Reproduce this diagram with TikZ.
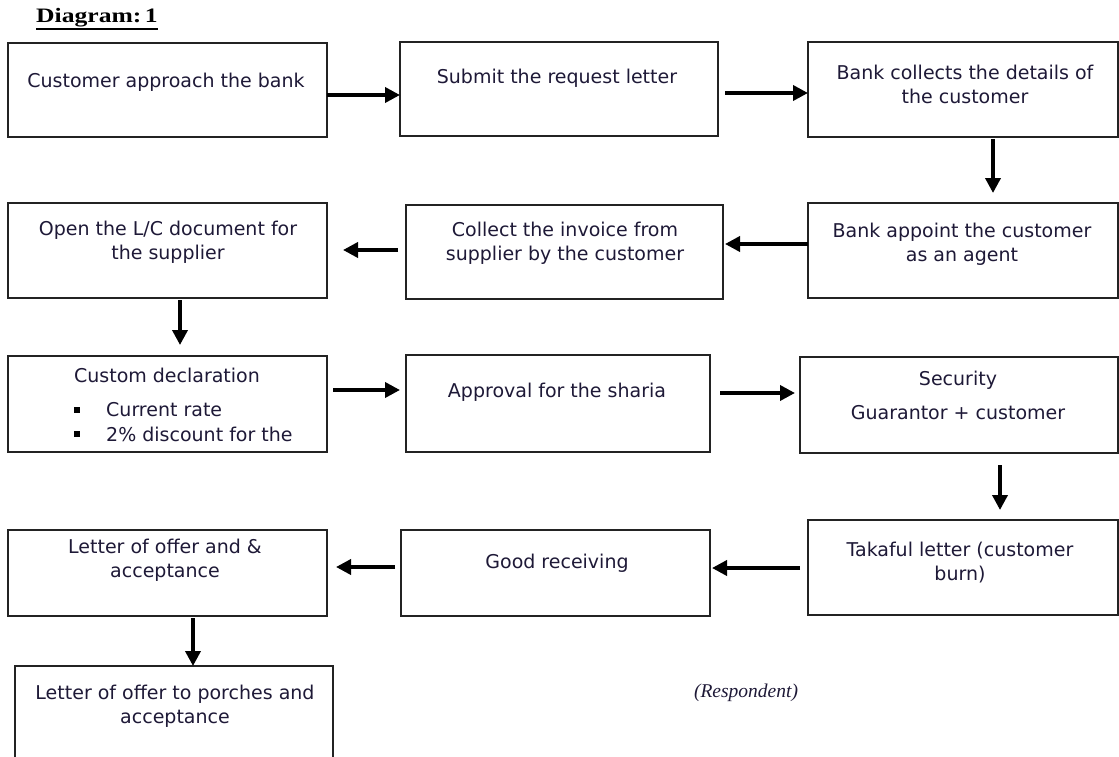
\documentclass[tikz,border=0pt]{standalone}
\usepackage{fontspec}
\setmainfont{DejaVu Sans}
\newfontfamily\titlefont[FakeStretch=1.25]{Liberation Serif}
\newfontfamily\respfont{Liberation Serif}
\usetikzlibrary{arrows.meta}
\definecolor{ink}{RGB}{30,25,55}
\definecolor{edge}{RGB}{35,35,35}
\newcommand\mkbox[5]{\node[box, minimum width={(#4-#2)*1pt}, minimum height={(#5-#3)*1pt}] (#1) at ({(#2+#4)/2},{(#3+#5)/2}) {};}
\tikzset{
  box/.style={draw=edge, line width=1.8pt, inner sep=0pt, outer sep=0pt},
  txt/.style={text=ink, font=\fontsize{19}{24}\selectfont, align=center, inner sep=0pt},
  arr/.style={draw=black, line width=3.6pt, -{Triangle[length=15pt,width=15pt]}},
  bullet/.style={fill=black, minimum size=6pt, inner sep=0pt}
}
\begin{document}
\begin{tikzpicture}[x=1pt,y=-1pt]
\clip (0,0) rectangle (1119,757);
\fill[white] (0,0) rectangle (1119,757);
% title
\node[anchor=west, inner sep=0pt, text=black, font=\titlefont\bfseries\fontsize{20.5}{22}\selectfont] (title) at (36,18) {Diagram:\,1};
\draw[line width=1.2pt] (title.south west) ++(0,-1.5pt) -- ([yshift=-1.5pt]title.south east);
% boxes
\mkbox{A}{8}{43}{327}{137}
\mkbox{B}{400}{42}{718}{136}
\mkbox{C}{808}{42}{1118}{137}
\mkbox{D}{808}{203}{1118}{298}
\mkbox{E}{406}{205}{723}{299}
\mkbox{F}{8}{203}{327}{298}
\mkbox{G}{8}{356}{327}{452}
\mkbox{H}{406}{355}{710}{452}
\mkbox{I}{800}{357}{1118}{453}
\mkbox{J}{808}{520}{1118}{615}
\mkbox{K}{401}{530}{710}{616}
\mkbox{L}{8}{530}{327}{616}
\mkbox{M}{15}{666}{333}{762}
% texts
\node[txt] (At) at (166,82) {Customer approach the bank};
\node[txt] (Bt) at (557,78) {Submit the request letter};
\node[txt] (Ct) at (965,84) {Bank collects the details of\\the customer};
\node[txt] (Dt) at (962,244) {Bank appoint the customer\\as an agent};
\node[txt] (Et) at (565,243) {Collect the invoice from\\supplier by the customer};
\node[txt] (Ft) at (168,242) {Open the L/C document for\\the supplier};
\node[txt] (Gt) at (167,375) {Custom declaration};
\node[bullet] (g1) at (77,410) {};
\node[bullet] (g2) at (77,434) {};
\node[txt, anchor=west] (g1t) at (106,410) {Current rate};
\node[txt, anchor=west] (g2t) at (106,434) {2\% discount for the};
\node[txt] (Ht) at (557,392) {Approval for the sharia};
\node[txt] (It1) at (958,380) {Security};
\node[txt] (It2) at (958,413) {Guarantor + customer};
\node[txt] (Jt) at (960,563) {Takaful letter (customer\\burn)};
\node[txt] (Kt) at (557,563) {Good receiving};
\node[txt] (Lt) at (165,560) {Letter of offer and \&\\acceptance};
\node[txt] (Mt) at (175,706) {Letter of offer to porches and\\acceptance};
\node[inner sep=0pt, text=ink, font=\respfont\itshape\fontsize{19.5}{22}\selectfont] (resp) at (746,693) {(Respondent)};
% arrows
\draw[arr] (A.east |- 0,95) -- (B.west |- 0,95);
\draw[arr] ([xshift=7pt]B.east |- 0,93) -- (C.west |- 0,93);
\draw[arr] ([yshift=-2pt]C.south -| 993,0) -- ([yshift=10pt]D.north -| 993,0);
\draw[arr] (D.west |- 0,244) -- ([xshift=2pt]E.east |- 0,244);
\draw[arr] ([xshift=-8pt]E.west |- 0,250) -- ([xshift=16pt]F.east |- 0,250);
\draw[arr] ([yshift=-2pt]F.south -| 180,0) -- ([yshift=11pt]G.north -| 180,0);
\draw[arr] ([xshift=6pt]G.east |- 0,390) -- ([xshift=-6pt]H.west |- 0,390);
\draw[arr] ([xshift=10pt]H.east |- 0,393) -- ([xshift=-5pt]I.west |- 0,393);
\draw[arr] ([yshift=-12pt]I.south -| 1000,0) -- ([yshift=10pt]J.north -| 1000,0);
\draw[arr] ([xshift=-8pt]J.west |- 0,568) -- ([xshift=2pt]K.east |- 0,568);
\draw[arr] ([xshift=-6pt]K.west |- 0,567) -- ([xshift=9pt]L.east |- 0,567);
\draw[arr] ([yshift=-2pt]L.south -| 193,0) -- (M.north -| 193,0);
\end{tikzpicture}
\end{document}
